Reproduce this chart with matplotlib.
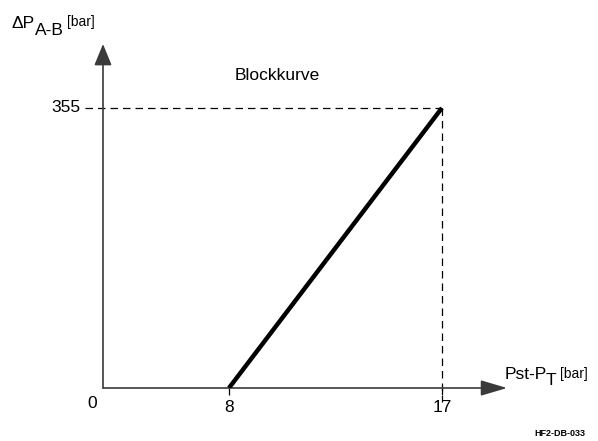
import numpy as np
import matplotlib
matplotlib.use('Agg')
import matplotlib.pyplot as plt
from matplotlib import font_manager

# pick a narrow sans if there is one
fam = 'Liberation Sans'
try:
    font_manager.findfont('Liberation Sans Narrow', fallback_to_default=False)
    fam = 'Liberation Sans Narrow'
except Exception:
    pass
plt.rcParams['font.family'] = [fam, 'DejaVu Sans']

# data
kurve_x = [8, 17]
kurve_y = [0, 355]
x_ticks = [8, 17]
y_max_wert = 355

W, H = 598, 441

def fx(px):
    return px / W

def fy(py):
    return 1 - py / H

# schematic x axis is not to scale: 0..8 is narrower than 8..17
knoten_d = [-2, 0, 8, 17, 21]
knoten_p = [-31.5, 0, 126, 339, 433.7]

def vor(x):
    return np.interp(x, knoten_d, knoten_p)

def rueck(p):
    return np.interp(p, knoten_p, knoten_d)

fig = plt.figure(figsize=(W / 100, H / 100), dpi=100)
ax = fig.add_axes([fx(103), fy(388), (507 - 103) / W, (388 - 44) / H])
ax.set_xscale('function', functions=(vor, rueck))
ax.set_xlim(0, 19.75)
ax.set_ylim(0, 436.1)

for s in ['top', 'right', 'left', 'bottom']:
    ax.spines[s].set_visible(False)

achse = '#3a3a3a'
ax.annotate('', xy=(1, 0), xytext=(0, 0), xycoords='axes fraction',
            arrowprops=dict(arrowstyle='-|>,head_length=1.35,head_width=0.4',
                            color=achse, lw=1.2, shrinkA=0, shrinkB=0,
                            mutation_scale=12))
ax.annotate('', xy=(0, 1), xytext=(0, 0), xycoords='axes fraction',
            arrowprops=dict(arrowstyle='-|>,head_length=1.1,head_width=0.45',
                            color=achse, lw=1.2, shrinkA=0, shrinkB=0,
                            mutation_scale=12))

# Blockkurve
ax.plot(kurve_x, kurve_y, color='black', lw=3.2, solid_capstyle='butt', zorder=3)

# dashed guide lines
ax.plot([-1.15, kurve_x[1]], [y_max_wert, y_max_wert], color='black', lw=0.9,
        dashes=(6, 4), clip_on=False)
ax.plot([kurve_x[1], kurve_x[1]], [y_max_wert, -18], color='black', lw=0.9,
        dashes=(6, 4), clip_on=False)

ax.set_xticks(x_ticks)
ax.set_xticklabels([str(t) for t in x_ticks])
ax.xaxis.set_minor_locator(matplotlib.ticker.NullLocator())
ax.tick_params(axis='x', length=5, width=0.9, color='black', pad=3.5,
               labelsize=12.5)
ax.set_yticks([])

fs = 12.5
fig.text(fx(80), fy(108), '355', ha='right', va='center', fontsize=fs)
fig.text(fx(92), fy(404), '0', ha='center', va='center', fontsize=fs)
fig.text(fx(277), fy(75), 'Blockkurve', ha='center', va='center', fontsize=fs)

# y axis label
fig.text(fx(12), fy(28), '\u0394P', ha='left', va='baseline', fontsize=fs)
fig.text(fx(35), fy(35), 'A-B', ha='left', va='baseline', fontsize=fs)
fig.text(fx(67), fy(26), '[bar]', ha='left', va='baseline', fontsize=10)

# x axis label
fig.text(fx(505), fy(379), 'Pst-P', ha='left', va='baseline', fontsize=fs)
fig.text(fx(546), fy(385), 'T', ha='left', va='baseline', fontsize=fs)
fig.text(fx(560), fy(378), '[bar]', ha='left', va='baseline', fontsize=10)

fig.text(fx(585), fy(434), 'HF2-DB-033', ha='right', va='center', fontsize=6.5,
         fontweight='bold', family=['Liberation Sans', 'DejaVu Sans'])

fig.savefig('out.png', dpi=100)
